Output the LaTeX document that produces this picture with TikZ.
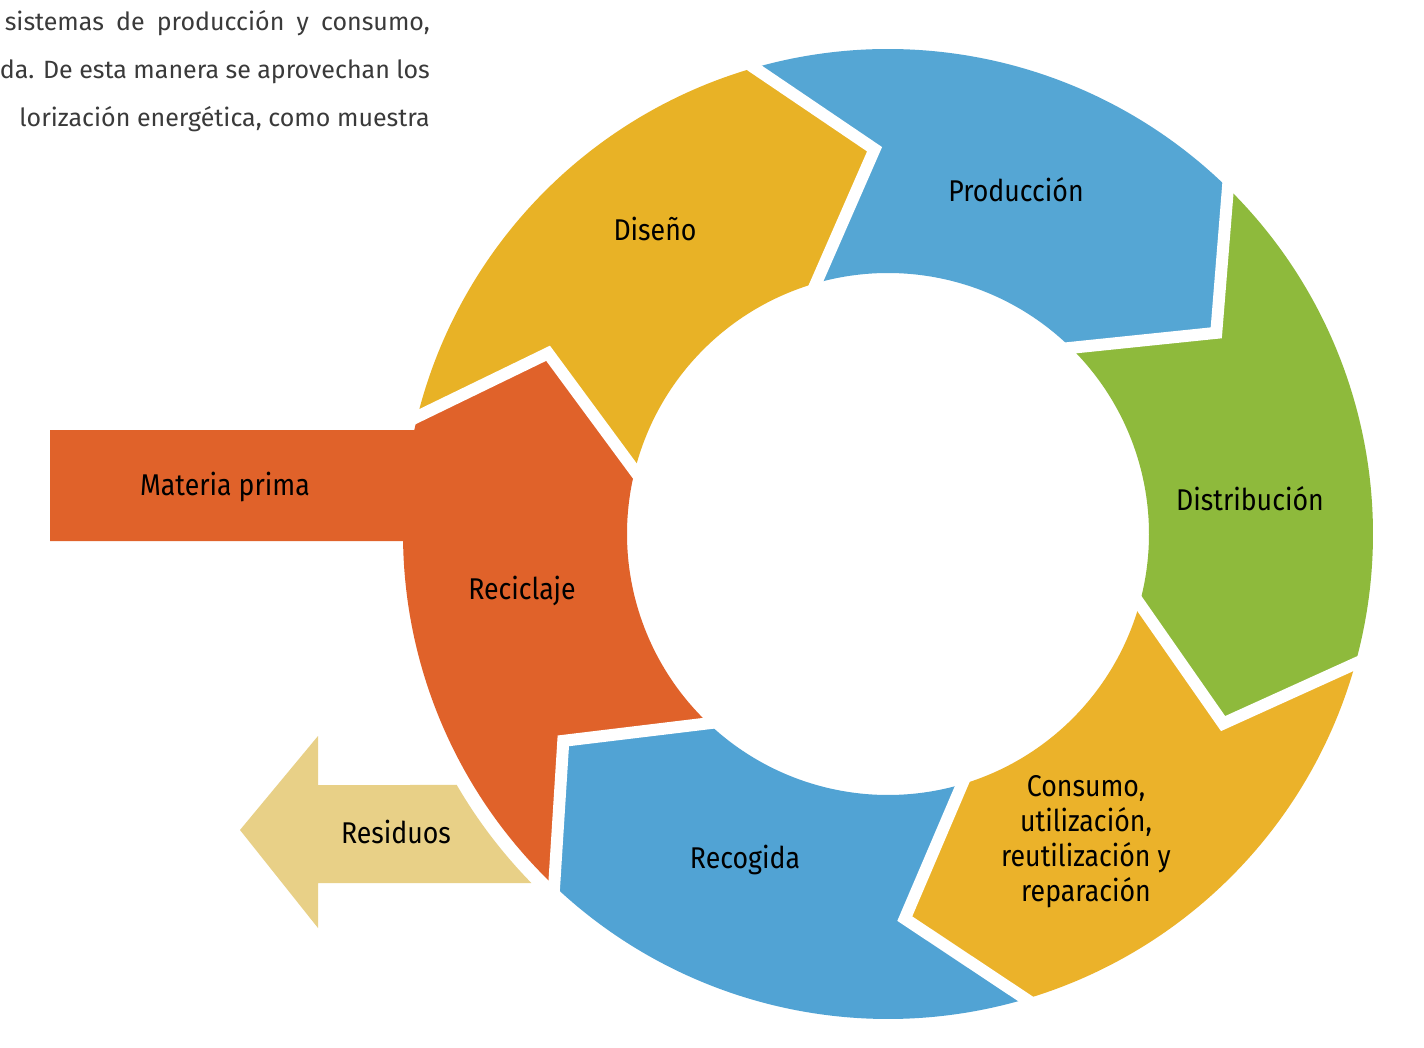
\documentclass[tikz,border=0pt]{standalone}
\usepackage{fontspec}
\setmainfont{Fira Sans}
\newfontfamily\lblfont{Fira Sans}[FakeStretch=0.89]
\usetikzlibrary{calc}
\definecolor{cDis}{HTML}{E8B226}
\definecolor{cPro}{HTML}{55A6D4}
\definecolor{cDib}{HTML}{8EBA3C}
\definecolor{cCon}{HTML}{EBB22A}
\definecolor{cRec}{HTML}{51A3D4}
\definecolor{cRcl}{HTML}{E0622A}
\definecolor{cRes}{HTML}{E8D087}
\definecolor{cTxt}{HTML}{3A3A3A}
\newcommand\ringseg[3]{\fill[#1] (#2:485) arc[start angle=#2,end angle=#3,radius=485] -- (#3-14:385) -- (#3:261) arc[start angle=#3,end angle=#2,radius=261] -- (#2-14:385) -- cycle;}
\newcommand\ringgap[1]{\draw[gapline] ($(#1-14:385)!1.1!(#1:485)$) -- (#1-14:385) -- ($(#1-14:385)!1.3!(#1:261)$);}
\tikzset{
  gapline/.style={draw=white, line width=12pt, line join=miter},
  lbl/.style={font=\lblfont\fontsize{30}{35}\selectfont, text=black, inner sep=0pt},
  para/.style={font=\fontsize{25}{30}\selectfont, text=cTxt, inner sep=0pt}
}
\begin{document}
\begin{tikzpicture}[x=1pt,y=1pt]
\useasboundingbox (0,0) rectangle (1424,-1048);
\fill[white] (0,0) rectangle (1424,-1048);
\begin{scope}[shift={(888,-534)}]
  \ringseg{cDis}{166}{106}
  \ringseg{cPro}{106}{45.5}
  \ringseg{cDib}{45.5}{-15.5}
  \ringseg{cCon}{-15.5}{-73.5}
  \ringseg{cRec}{-73.5}{-133.5}
  % Reciclaje with Materia prima
  \fill[cRcl] (226.5:485) arc[start angle=226.5,end angle=180.83,radius=485]
     -- (-838,-7) -- (-838,104) -- (167.62:485)
     arc[start angle=167.62,end angle=166,radius=485]
     -- (152:385) -- (166:261)
     arc[start angle=166,end angle=226.5,radius=261]
     -- (212.5:385) -- cycle;
  \ringgap{166}
  \ringgap{106}
  \ringgap{45.5}
  \ringgap{-15.5}
  \ringgap{-73.5}
  \ringgap{226.5}
  \fill[cRcl] (-838,-7) rectangle (-472,104);
  % Residuos arrow
  \fill[cRes] (-570,-251) -- (210.2:499) arc[start angle=210.2,end angle=224.4,radius=499]
     -- (-570,-349) -- (-570,-394) -- (-648,-296) -- (-570,-202) -- cycle;
\end{scope}
\node[lbl, anchor=base] (diseno) at (655,-241) {Diseño};
\node[lbl, anchor=base] (produccion) at (1016,-202) {Producción};
\node[lbl, anchor=base] (distribucion) at (1250,-510) {Distribución};
\node[lbl, align=center] (consumo) at (1086,-842) {Consumo,\\utilización,\\reutilización y\\reparación};
\node[lbl, anchor=base] (recogida) at (745,-868) {Recogida};
\node[lbl, anchor=base] (reciclaje) at (522,-599) {Reciclaje};
\node[lbl, anchor=base] (materia) at (225,-495) {Materia prima};
\node[lbl, anchor=base] (residuos) at (396,-843) {Residuos};
\node[para, anchor=base east] (p1) at (430,-31) {\makebox[425pt][s]{sistemas de producción y consumo,}};
\node[para, anchor=base east] (p2) at (430,-79) {\makebox[430pt][s]{da. De esta manera se aprovechan los}};
\node[para, anchor=base east] (p3) at (430,-127) {lorización energética, como muestra};
\end{tikzpicture}
\end{document}
